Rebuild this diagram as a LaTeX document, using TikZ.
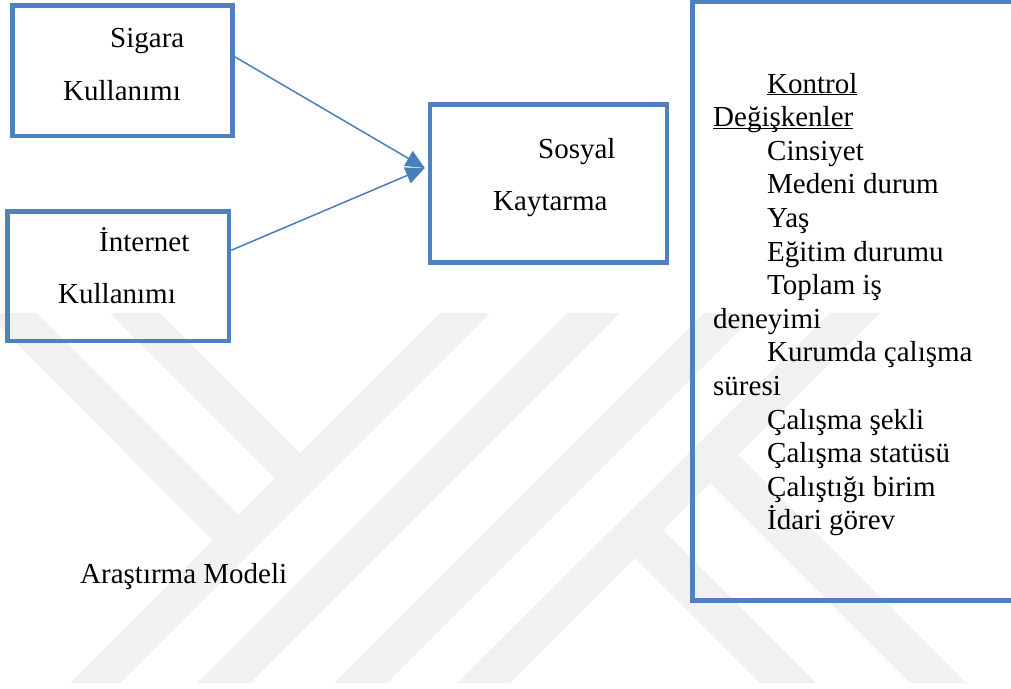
\documentclass[tikz,border=0pt]{standalone}
\usepackage{fontspec}
\setmainfont{Liberation Serif}
\usetikzlibrary{arrows.meta}

\definecolor{boxblue}{HTML}{4F81BD}
\definecolor{lineblue}{HTML}{4A7EBB}
\definecolor{markgray}{HTML}{F1F1F1}
\newcommand{\uword}[1]{\underline{\smash{#1}}}

\begin{document}
\begin{tikzpicture}[%
        x = 1pt, y = -1pt,
        box/.style = {draw = boxblue, line width = 4.5pt, inner sep = 0pt},
        txt/.style = {anchor = base west, inner sep = 0pt,
            font = \fontsize{29}{33.6}\selectfont},
        link/.style = {draw = lineblue, line width = 1.5pt,
            -{Triangle[length = 19pt, width = 17pt]}},
        wmark/.style = {fill = markgray}
    ]

        % Page frame.
        \useasboundingbox (0,0) rectangle (1011,688);
        \clip (0,0) rectangle (1011,688);

        % Watermark bands behind everything.
        \fill[wmark] (-13,313) -- (37,313) -- (238.5,514.5) -- (212.5,540.5) -- cycle;
        \fill[wmark] (110,313) -- (160,313) -- (300,453) -- (275,478) -- cycle;
        \fill[wmark] (440,313) -- (490,313) -- (120,683) -- (70,683) -- cycle;
        \fill[wmark] (567,313) -- (620,313) -- (250,683) -- (197,683) -- cycle;
        \fill[wmark] (704,313) -- (757,313) -- (387,683) -- (334,683) -- cycle;
        \fill[wmark] (830,313) -- (880,313) -- (510,683) -- (457,683) -- cycle;
        \fill[wmark] (635,558) -- (663,530) -- (816,683) -- (760,683) -- cycle;
        \fill[wmark] (710,483) -- (738,455) -- (966,683) -- (910,683) -- cycle;

        % Boxes.
        \node[box, minimum width = 220pt, minimum height = 130.5pt] (sigara) at (122.5,70.75) {};
        \node[box, minimum width = 221.5pt, minimum height = 129.5pt] (internet) at (118.25,276.25) {};
        \node[box, minimum width = 237pt, minimum height = 158pt] (sosyal) at (548.5,183.5) {};
        \node[box, minimum width = 324pt, minimum height = 599pt] (kontrol) at (854.5,301) {};

        % Box texts.
        \node[txt] (sigaraA) at (110,47) {Sigara};
        \node[txt] (sigaraB) at (63,100) {Kullanımı};
        \node[txt] (internetA) at (99,251) {İnternet};
        \node[txt] (internetB) at (58,303) {Kullanımı};
        \node[txt] (sosyalA) at (538,158) {Sosyal};
        \node[txt] (sosyalB) at (493,210) {Kaytarma};

        % Control variables, one line each.
        \foreach \ind/\txt [count = \i from 0] in {%
            1/\uword{Kontrol}, 0/\uword{Değişkenler}, 1/Cinsiyet,
            1/Medeni durum, 1/Yaş, 1/Eğitim durumu, 1/Toplam iş,
            0/deneyimi, 1/Kurumda çalışma, 0/süresi, 1/Çalışma şekli,
            1/Çalışma statüsü, 1/Çalıştığı birim, 1/İdari görev}{%
            \node[txt] (var\i) at ({713 + 54*\ind}, {93 + 33.6*\i}) {\txt};
        }

        % Caption.
        \node[txt] (title) at (80,583) {Araştırma Modeli};

        % Arrows into the outcome box.
        \coordinate (tip) at ([xshift = -3pt, yshift = 15.5pt]sosyal.west);
        \draw[link] ([yshift = 14pt]sigara.east) -- (tip);
        \draw[link] ([yshift = 26pt]internet.east) -- (tip);
    \end{tikzpicture}
\end{document}
